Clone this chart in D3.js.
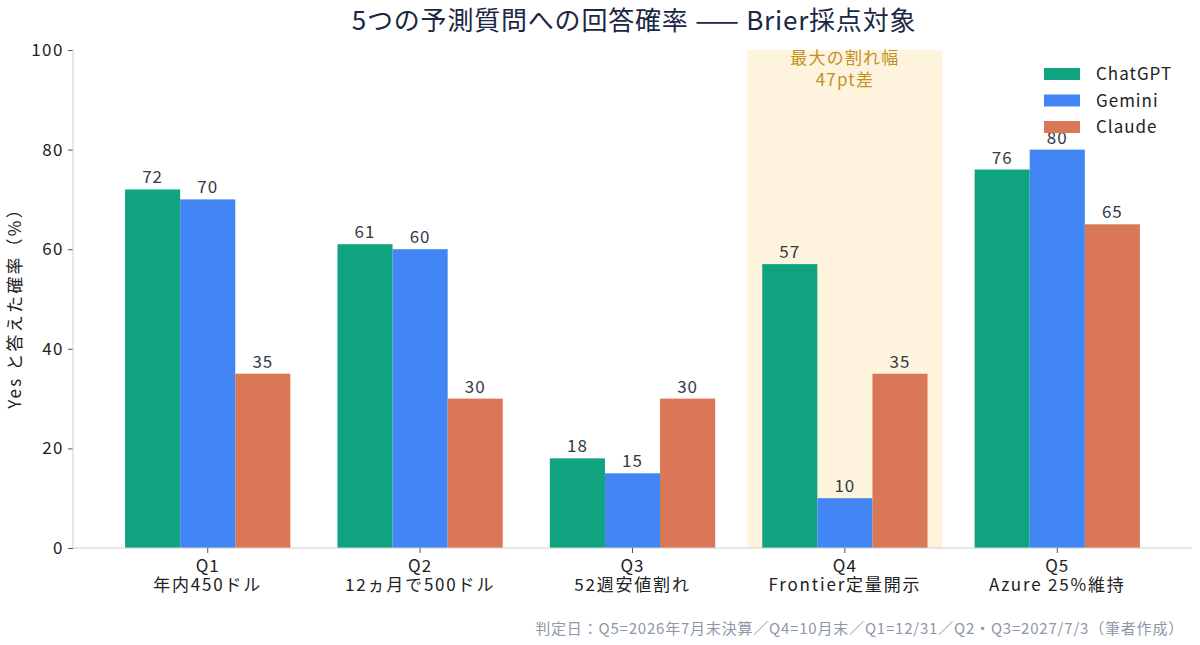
<!DOCTYPE html>
<html><head><meta charset="utf-8">
<script src="https://cdn.jsdelivr.net/npm/d3@7"></script>
<style>
html,body{margin:0;padding:0;background:#fff;}
text{font-family:"Noto Sans CJK JP","Noto Sans",sans-serif;}
</style></head>
<body><svg id="c" width="1200" height="645"></svg>
<script>
const questions = ["Q1","Q2","Q3","Q4","Q5"];
const questionSubs = ["年内450ドル","12ヵ月で500ドル","52週安値割れ","Frontier定量開示","Azure 25%維持"];
const seriesNames = ["ChatGPT","Gemini","Claude"];
const chatgpt = [72,61,18,57,76];
const gemini = [70,60,15,10,80];
const claude = [35,30,30,35,65];
const yTicks = [0,20,40,60,80,100];
const colors = ["#10a37f","#4285f4","#d97757"];
const highlightQ = "Q4";
const highlightText = ["最大の割れ幅","47pt差"];
const title = "5つの予測質問への回答確率 —— Brier採点対象";
const yLabel = "Yes と答えた確率（%）";
const footnote = "判定日：Q5=2026年7月末決算／Q4=10月末／Q1=12/31／Q2・Q3=2027/7/3（筆者作成）";

const series = [chatgpt, gemini, claude];
const svg = d3.select("#c");
const pL = 73, pR = 1192, pT = 50, pB = 548;

const x = d3.scaleBand().domain(questions).range([101.5,1163.5]).paddingInner(0.2217).paddingOuter(0.111);
const xs = d3.scaleBand().domain(seriesNames).range([0, x.bandwidth()]);
const y = d3.scaleLinear().domain([0,100]).range([pB, pT]);

// highlight
const hx = x(highlightQ) + x.bandwidth()/2;
svg.append("rect").attr("x", hx-97.5).attr("y", y(100)).attr("width", 195).attr("height", y(0)-y(100)).attr("fill","#fef4de");
const ht = svg.append("text").attr("text-anchor","middle").attr("font-size",17).attr("letter-spacing",1.2).attr("fill","#c4901e");
highlightText.forEach((d,i)=>ht.append("tspan").attr("x",hx).attr("y",64+i*22).text(d));

// bars
series.forEach((vals, si) => {
  const g = svg.append("g");
  g.selectAll("rect").data(vals).join("rect")
    .attr("x",(d,i)=>x(questions[i])+xs(seriesNames[si]))
    .attr("y",d=>y(d)).attr("width",xs.bandwidth()).attr("height",d=>y(0)-y(d))
    .attr("fill",colors[si]);
  g.selectAll("text").data(vals).join("text")
    .attr("x",(d,i)=>x(questions[i])+xs(seriesNames[si])+xs.bandwidth()/2)
    .attr("y",d=>y(d)-6).attr("text-anchor","middle").attr("font-size",17).attr("letter-spacing",1)
    .attr("fill","#333a48").text(d=>d);
});

// axes
const yAxis = d3.axisLeft(y).tickValues(yTicks).tickSize(5).tickPadding(4);
const ya = svg.append("g").attr("transform",`translate(${pL},0)`).call(yAxis);
ya.select(".domain").remove();
ya.selectAll(".tick line").attr("stroke","#555");
ya.selectAll(".tick text").attr("font-size",17).attr("letter-spacing",1.5).attr("fill","#222").style("font-family",'"Noto Sans CJK JP",sans-serif');
svg.append("line").attr("x1",pL).attr("x2",pL).attr("y1",pT).attr("y2",pB).attr("stroke","#d0d0d0");
svg.append("line").attr("x1",pL).attr("x2",pR).attr("y1",pB).attr("y2",pB).attr("stroke","#d0d0d0");

const xa = svg.append("g").attr("transform",`translate(0,${pB})`).call(d3.axisBottom(x).tickSize(5).tickFormat(""));
xa.select(".domain").remove();
xa.selectAll(".tick line").attr("stroke","#555");
questions.forEach((q,i)=>{
  const cx = x(q)+x.bandwidth()/2;
  const t = svg.append("text").attr("text-anchor","middle").attr("font-size",17).attr("fill","#222");
  t.append("tspan").attr("x",cx).attr("y",572).attr("letter-spacing",1).text(q);
  t.append("tspan").attr("x",cx).attr("y",591).attr("letter-spacing",1.8).text(questionSubs[i]);
});

// y label
svg.append("text").attr("transform","translate(21,304) rotate(-90)").attr("text-anchor","middle")
  .attr("font-size",17).attr("letter-spacing",2.2).attr("fill","#222").text(yLabel);

// title
svg.append("text").attr("x",634).attr("y",30).attr("text-anchor","middle").attr("font-size",26).attr("letter-spacing",0.8).attr("fill","#1b2744").text(title);

// legend
seriesNames.forEach((n,i)=>{
  svg.append("rect").attr("x",1044).attr("y",68+i*26.5).attr("width",36).attr("height",12).attr("fill",colors[i]);
  svg.append("text").attr("x",1096).attr("y",80+i*26.5).attr("font-size",17).attr("letter-spacing",1).attr("fill","#222").text(n);
});

// footnote
svg.append("text").attr("x",1184).attr("y",634).attr("text-anchor","end").attr("font-size",15).attr("letter-spacing",0.8).attr("fill","#8e97a8").text(footnote);
</script></body></html>
